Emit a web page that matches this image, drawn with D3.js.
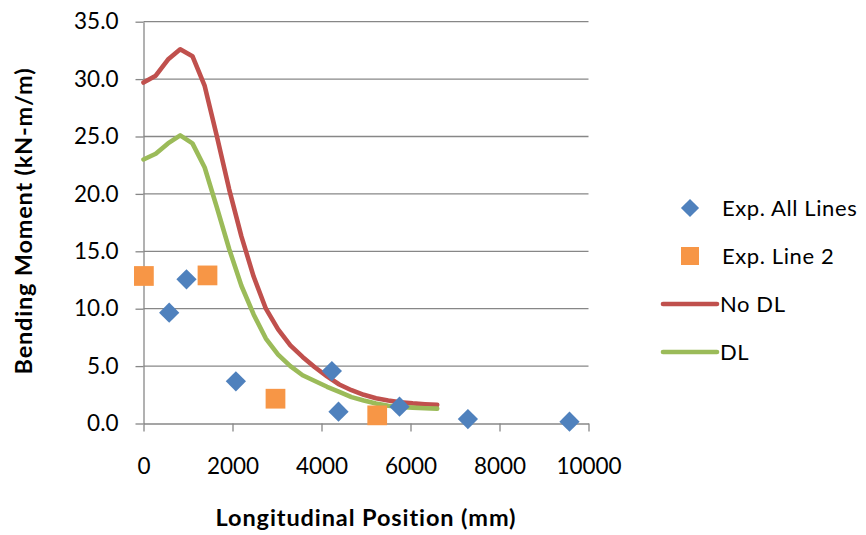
<!DOCTYPE html>
<html>
<head>
<meta charset="utf-8">
<script src="https://cdn.jsdelivr.net/npm/d3@7"></script>
<style>
  html, body { margin: 0; padding: 0; background: #fff; }
  svg { display: block; }
  text { font-family: Lato, "Open Sans", sans-serif; fill: #000; }
</style>
</head>
<body>
<svg id="chart" width="866" height="535"></svg>
<script>
// Measured bending moments (kN-m/m) along the span (mm)
const expAllX = [577, 966, 2076, 4233, 4382, 5753, 7290, 9573];
const expAllY = [9.65, 12.56, 3.67, 4.57, 1.03, 1.46, 0.39, 0.16];

const expLine2X = [9, 1438, 2966, 5252];
const expLine2Y = [12.85, 12.9, 2.16, 0.71];

// Model predictions, with and without dead load
const modelX = [0, 275, 550, 825, 1100, 1375, 1650, 1925, 2200, 2475, 2750, 3025, 3300,
                3575, 3850, 4125, 4400, 4675, 4950, 5225, 5500, 5775, 6050, 6325, 6600];
const noDL   = [29.7, 30.3, 31.7, 32.6, 32.0, 29.4, 25.0, 20.4, 16.3, 12.8, 10.0, 8.2, 6.8,
                5.8, 4.9, 4.1, 3.4, 2.9, 2.5, 2.2, 2.0, 1.85, 1.75, 1.68, 1.62];
const withDL = [23.0, 23.5, 24.4, 25.1, 24.4, 22.3, 18.8, 15.2, 12.0, 9.5, 7.4, 6.0, 5.0,
                4.2, 3.7, 3.2, 2.75, 2.3, 2.0, 1.75, 1.55, 1.45, 1.38, 1.33, 1.3];

const xTicks = [0, 2000, 4000, 6000, 8000, 10000];
const yTicks = [0, 5, 10, 15, 20, 25, 30, 35];

const legendItems = [
  { label: "Exp. All Lines", kind: "diamond", color: "#4F81BD" },
  { label: "Exp. Line 2",    kind: "square",  color: "#F79646" },
  { label: "No DL",          kind: "line",    color: "#C0504D" },
  { label: "DL",             kind: "line",    color: "#9BBB59" }
];

const svg = d3.select("#chart");
const plot = { left: 143.5, right: 588.5, top: 21.7, bottom: 423.5 };
const gridColor = "#878787";

const x = d3.scaleLinear().domain([0, 10000]).range([plot.left, plot.right]);
const y = d3.scaleLinear().domain([0, 35]).range([plot.bottom, plot.top]);

// Horizontal gridlines
svg.append("g")
  .selectAll("line")
  .data(yTicks.filter(d => d > 0))
  .join("line")
  .attr("x1", plot.left).attr("x2", plot.right)
  .attr("y1", d => y(d)).attr("y2", d => y(d))
  .attr("stroke", gridColor).attr("stroke-width", 1.3);

// Y axis
const yAxis = svg.append("g")
  .attr("transform", `translate(${plot.left},0)`)
  .call(d3.axisLeft(y).tickValues(yTicks).tickFormat(d3.format(".1f"))
        .tickSize(8).tickSizeOuter(0).tickPadding(17));
yAxis.select(".domain").attr("stroke", gridColor).attr("stroke-width", 1.3);
yAxis.selectAll(".tick line").attr("stroke", gridColor).attr("stroke-width", 1.3);
yAxis.selectAll("text").attr("font-size", 22.5).attr("fill", "#000")
  .attr("font-family", "Lato, 'Open Sans', sans-serif");

// X axis
const xAxis = svg.append("g")
  .attr("transform", `translate(0,${plot.bottom})`)
  .call(d3.axisBottom(x).tickValues(xTicks).tickFormat(d3.format("d"))
        .tickSize(8).tickSizeOuter(0).tickPadding(27));
xAxis.select(".domain").attr("stroke", gridColor).attr("stroke-width", 1.3);
xAxis.selectAll(".tick line").attr("stroke", gridColor).attr("stroke-width", 1.3);
xAxis.selectAll("text").attr("font-size", 22.5).attr("fill", "#000")
  .attr("font-family", "Lato, 'Open Sans', sans-serif");

// Model curves
const line = d3.line().x(d => x(d[0])).y(d => y(d[1]));
svg.append("path")
  .datum(d3.zip(modelX, noDL))
  .attr("d", line)
  .attr("fill", "none").attr("stroke", "#C0504D")
  .attr("stroke-width", 4.6).attr("stroke-linejoin", "round").attr("stroke-linecap", "round");
svg.append("path")
  .datum(d3.zip(modelX, withDL))
  .attr("d", line)
  .attr("fill", "none").attr("stroke", "#9BBB59")
  .attr("stroke-width", 4.6).attr("stroke-linejoin", "round").attr("stroke-linecap", "round");

// Experimental markers
const diamond = d3.symbol(d3.symbolSquare, 205)();
const square = d3.symbol(d3.symbolSquare, 390)();

svg.append("g")
  .selectAll("path")
  .data(d3.zip(expAllX, expAllY))
  .join("path")
  .attr("d", diamond)
  .attr("transform", d => `translate(${x(d[0])},${y(d[1])}) rotate(45)`)
  .attr("fill", "#4F81BD");

svg.append("g")
  .selectAll("path")
  .data(d3.zip(expLine2X, expLine2Y))
  .join("path")
  .attr("d", square)
  .attr("transform", d => `translate(${x(d[0])},${y(d[1])})`)
  .attr("fill", "#F79646");

// Axis titles
svg.append("text")
  .attr("x", 366).attr("y", 526)
  .attr("text-anchor", "middle")
  .attr("font-size", 23.5).attr("font-weight", "bold")
  .attr("letter-spacing", 0.9)
  .text("Longitudinal Position (mm)");

svg.append("text")
  .attr("transform", `translate(32,221) rotate(-90)`)
  .attr("text-anchor", "middle")
  .attr("font-size", 23.5).attr("font-weight", "bold")
  .attr("letter-spacing", 0.8)
  .text("Bending Moment (kN-m/m)");

// Legend
const legendRows = [208, 256, 304, 352];
const legend = svg.append("g");
legendItems.forEach((item, i) => {
  const cy = legendRows[i];
  if (item.kind === "diamond") {
    legend.append("path").attr("d", d3.symbol(d3.symbolSquare, 165)())
      .attr("transform", `translate(690,${cy}) rotate(45)`).attr("fill", item.color);
  } else if (item.kind === "square") {
    legend.append("path").attr("d", d3.symbol(d3.symbolSquare, 324)())
      .attr("transform", `translate(690,${cy})`).attr("fill", item.color);
  } else {
    legend.append("line")
      .attr("x1", 663).attr("x2", 717).attr("y1", cy).attr("y2", cy)
      .attr("stroke", item.color).attr("stroke-width", 4.6).attr("stroke-linecap", "round");
  }
  legend.append("text")
    .attr("x", item.kind === "line" ? 720 : 722)
    .attr("y", cy + 7.5)
    .attr("font-size", 22)
    .attr("letter-spacing", 0.6)
    .text(item.label);
});
</script>
</body>
</html>
